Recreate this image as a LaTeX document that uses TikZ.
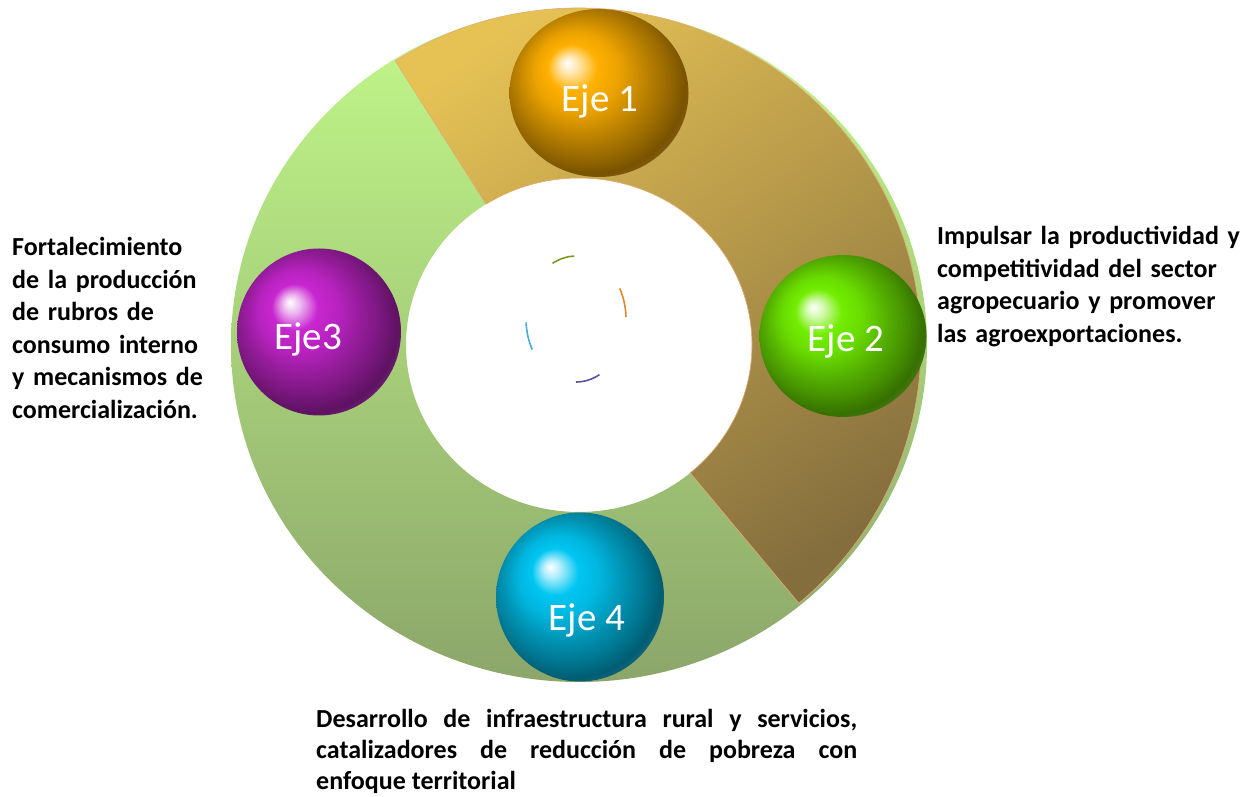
\documentclass[tikz,border=0pt]{standalone}
\usepackage{fontspec}
\setmainfont{Carlito}
\usetikzlibrary{shapes.geometric}

\definecolor{ringgreentop}{HTML}{C2F98A}
\definecolor{ringgreenbot}{HTML}{8CA66A}
\definecolor{ringgoldtop}{HTML}{E6C255}
\definecolor{ringgoldbot}{HTML}{846E3E}
\definecolor{ringedge}{HTML}{E8A878}
\definecolor{ballone}{HTML}{FFB000}
\definecolor{balltwo}{HTML}{72EE00}
\definecolor{ballthree}{HTML}{C826D0}
\definecolor{ballfour}{HTML}{00C6F2}
\definecolor{ballrim}{HTML}{4A3048}
\definecolor{sparkgreen}{HTML}{7A9A1E}
\definecolor{sparkorange}{HTML}{E0892F}
\definecolor{sparkblue}{HTML}{4AAAD8}
\definecolor{sparkpurple}{HTML}{5E4FA0}

\colorlet{ballmain}{black}
\pgfdeclareradialshading[ballmain]{glossy}{\pgfqpoint{-9bp}{9bp}}{%
  color(0bp)=(white); color(2.5bp)=(ballmain!30!white); color(7bp)=(ballmain);
  color(12bp)=(ballmain!92!black); color(18bp)=(ballmain!74!black);
  color(23bp)=(ballmain!60!black); color(27bp)=(ballmain!47!black);
  color(31bp)=(ballmain!40!ballrim); color(40bp)=(ballrim)}

\begin{document}
\begin{tikzpicture}
    [
      x=1pt, y=1pt,
      ball tint/.code={\colorlet{ballmain}{#1}},
      sphere/.style={ellipse,inner sep=0pt,shading=glossy},
      eje/.style={anchor=base,text=white,font=\fontsize{39}{45}\selectfont},
      goal/.style={anchor=base west,inner sep=0pt,font=\fontsize{26}{32.5}\selectfont\bfseries},
      spark/.style={line width=1.6pt},
    ]

    \useasboundingbox (0,0) rectangle (1253,796);

    \coordinate (ring-center) at (579,451);
    \coordinate (spark-center) at (576,477);

    % ring
    \shade [even odd rule,top color=ringgreentop,bottom color=ringgreenbot]
    (ring-center) ellipse [x radius=348,y radius=337]
    (ring-center) ellipse [x radius=173,y radius=167];

    \shadedraw [draw=ringedge,line width=0.6pt,top color=ringgoldtop,bottom color=ringgoldbot,shading angle=35]
    ([shift={(122.5:342 and 337)}]ring-center)
    arc [start angle=122.5,end angle=-50,x radius=342,y radius=337]
    -- ([shift={(-50:173 and 167)}]ring-center)
    arc [start angle=-50,end angle=122.5,x radius=173,y radius=167]
    -- cycle;

    \draw [spark,sparkgreen] ([shift={(92:50 and 63)}]spark-center)
    arc [start angle=92,end angle=118,x radius=50,y radius=63];
    \draw [spark,sparkorange] ([shift={(2:50 and 63)}]spark-center)
    arc [start angle=2,end angle=29,x radius=50,y radius=63];
    \draw [spark,sparkblue] ([shift={(183:50 and 63)}]spark-center)
    arc [start angle=183,end angle=209,x radius=50,y radius=63];
    \draw [spark,sparkpurple] ([shift={(270:50 and 63)}]spark-center)
    arc [start angle=270,end angle=298,x radius=50,y radius=63];

    \node (sphere-1) [ball tint=ballone,sphere,minimum width=179,minimum height=168] at (599,703) {};
    \node (sphere-2) [ball tint=balltwo,sphere,minimum width=167,minimum height=162] at (843,460) {};
    \node (sphere-3) [ball tint=ballthree,sphere,minimum width=164,minimum height=167] at (319,464) {};
    \node (sphere-4) [ball tint=ballfour,sphere,minimum width=168,minimum height=169] at (580,199) {};

    \node (label-1) [eje] at (600,684) {Eje 1};
    \node (label-2) [eje] at (846,444) {Eje 2};
    \node (label-3) [eje] at (308,446) {Eje3};
    \node (label-4) [eje] at (587,166) {Eje 4};

    \node (goal-2) [goal,text width=316,align=left] at (937,551)
    {Impulsar la productividad y\\ competitividad del sector\\ agropecuario y promover\\ las agroexportaciones.};
    \node (goal-3) [goal,text width=215,align=left] at (12,540)
    {Fortalecimiento\\ de la producción\\ de rubros de\\ consumo interno\\ y mecanismos de\\ comercialización.};
    \node (goal-4) [goal,text width=541,align=justify,font=\fontsize{26}{31}\selectfont\bfseries] at (316,69)
    {Desarrollo de infraestructura rural y servicios,\linebreak catalizadores de reducción de pobreza con\linebreak enfoque territorial};

  \end{tikzpicture}
\end{document}
